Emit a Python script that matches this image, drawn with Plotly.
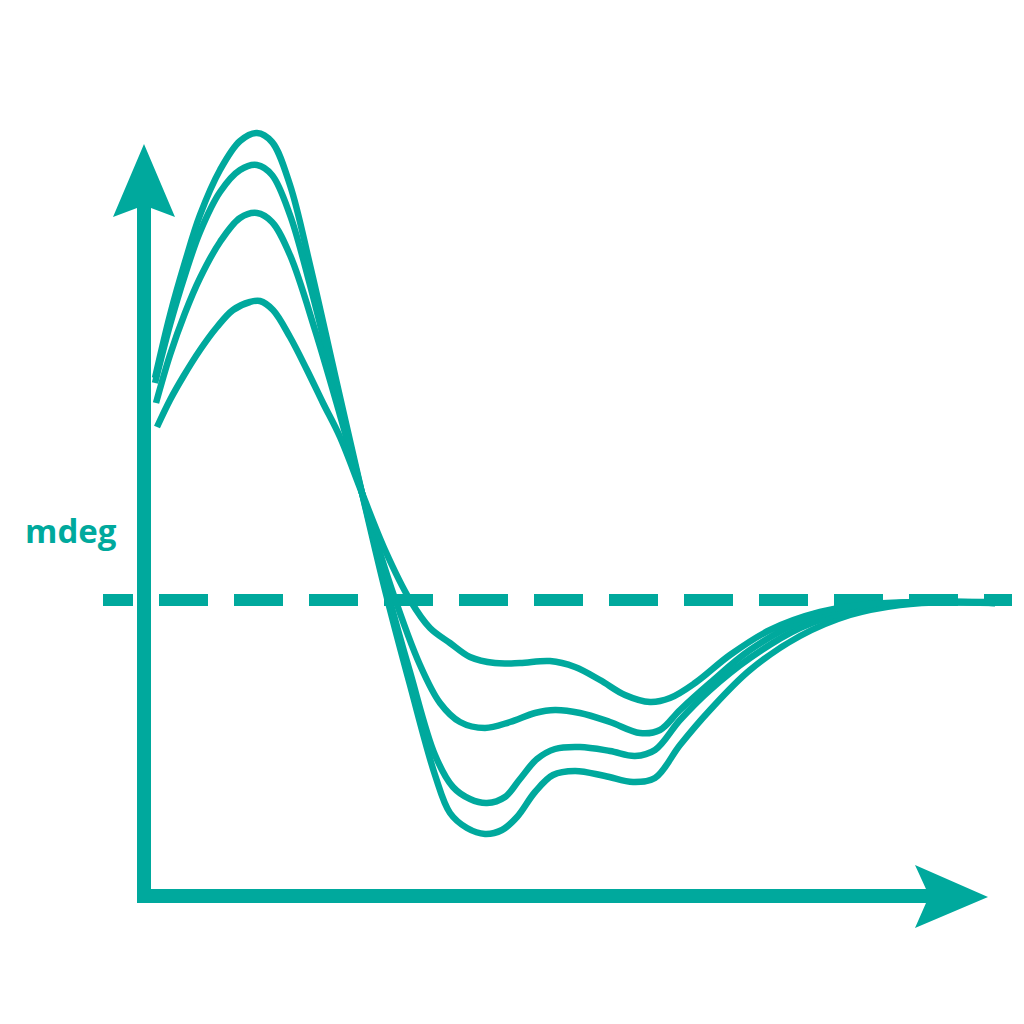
import plotly.graph_objects as go

TEAL = "#00A99D"

# Wavelength (nm) and ellipticity (mdeg) for four CD spectra
wl1 = [190, 191.5, 193, 194.5, 196.5, 198.5, 200.2, 201.7, 203.5, 205.5, 208, 210.7, 213, 215.5, 218, 219.5, 221.2,
       223, 224.7, 226.2, 228, 229.8, 232, 235, 237.8, 240, 242.5, 245.5, 249.5, 254.5, 259.5, 264.5, 269.5, 274]
cd1 = [22.2, 28.5, 33.8, 38.5, 43, 45.9, 46.7, 45.8, 41.5, 33.5, 22.5, 10.7, 1, -8.5, -17.5, -21.3, -22.8,
       -23.4, -23, -21.7, -19.2, -17.5, -17.1, -17.6, -18.2, -17.8, -14.5, -11, -7, -3.6, -1.5, -0.5, -0.2, -0.3]

wl2 = [190, 191.5, 193, 194.5, 196.5, 198.5, 200.2, 201.7, 203.5, 205.5, 208, 210.7, 213.2, 215.5, 218, 219.8, 221.5,
       223.2, 225, 226.5, 228.2, 230, 232.5, 235.5, 238, 240, 242.5, 245.5, 249.5, 254.5, 259.5, 264.5, 269.5, 274]
cd2 = [21.7, 27.5, 32.5, 36.8, 40.8, 43, 43.5, 42.5, 38.5, 31.5, 21.5, 10.7, 1, -7.2, -15.5, -18.7, -19.9,
       -20.3, -19.7, -17.9, -15.9, -14.9, -14.7, -15.1, -15.6, -15, -12, -9, -5.8, -2.8, -1.1, -0.3, -0.2, -0.3]

wl3 = [190.1, 191.5, 193, 194.5, 196.5, 198.5, 200.2, 201.7, 203.5, 206, 208.5, 210.7, 213.7, 216.5, 218.5, 220.5,
       223, 225.5, 228, 230, 232.5, 235.5, 238.5, 240.5, 242.5, 245.5, 249.5, 254.5, 259.5, 264.5, 274]
cd3 = [19.7, 24.5, 28.7, 32.2, 35.8, 38.2, 38.7, 37.8, 34.5, 27, 18.5, 10.7, 1, -6.5, -10.3, -12.2,
       -12.8, -12.2, -11.3, -11, -11.3, -12.2, -13.3, -13, -11, -8.3, -5, -2.2, -0.8, -0.3, -0.3]

wl4 = [190.2, 191.5, 192.8, 194.5, 196.2, 197.8, 199.5, 200.5, 201.8, 203.5, 205.2, 206.8, 208.5, 210.7, 213, 215.5,
       217.5, 219.5, 221.5, 224, 226.5, 229.5, 232, 234.5, 237, 239.5, 241.5, 244, 247.5, 251.5, 256.5, 261.5,
       266.5, 274]
cd4 = [17.3, 20, 22.3, 25, 27.3, 29, 29.8, 29.9, 29, 26.3, 23, 19.7, 16.3, 10.7, 5, 0,
       -2.8, -4.3, -5.7, -6.3, -6.3, -6.1, -6.7, -8, -9.5, -10.2, -9.8, -8.3, -5.5, -3, -1.2, -0.4,
       -0.2, -0.2]

baseline_wl = [184.8, 275.7]
baseline_cd = [0, 0]

y_label = "mdeg"

# page is offset by the 8px body margin; the figure is 1016x1016
OFF = 8
SIZE = 1016

fig = go.Figure()

# dashed zero line
dash_pattern = ",".join(["30px", "26px"] + ["49px", "26px"] * 11 + ["29px", "40px"])
fig.add_trace(go.Scatter(x=baseline_wl, y=baseline_cd, mode="lines",
                         line=dict(color=TEAL, width=12, dash=dash_pattern),
                         hoverinfo="skip", showlegend=False))

for wl, cd in [(wl1, cd1), (wl2, cd2), (wl3, cd3), (wl4, cd4)]:
    fig.add_trace(go.Scatter(x=wl, y=cd, mode="lines",
                             line=dict(color=TEAL, width=6.5, shape="spline", smoothing=1.0),
                             hoverinfo="skip", showlegend=False))


def P(px, py):
    return f"{(px - OFF)/SIZE:.5f},{1 - (py - OFF)/SIZE:.5f}"


axis_path = ("M " + P(144, 144) + " L " + P(175, 217) + " L " + P(151, 208) + " L " + P(151, 889) +
             " L " + P(926, 889) + " L " + P(915, 865) + " L " + P(988, 897) + " L " + P(915, 928) +
             " L " + P(926, 903) + " L " + P(137, 903) + " L " + P(137, 208) + " L " + P(113, 217) + " Z")

fig.add_shape(type="path", xref="paper", yref="paper", path=axis_path,
              fillcolor=TEAL, line=dict(width=0), layer="below")

fig.add_annotation(text="<b>" + y_label + "</b>", xref="paper", yref="paper",
                   x=(71 - OFF)/SIZE, y=1 - (530 - OFF)/SIZE, xanchor="center", yanchor="middle",
                   showarrow=False, font=dict(family="Open Sans", size=33, color=TEAL))

fig.update_layout(
    width=SIZE, height=SIZE,
    margin=dict(l=0, r=0, t=0, b=0),
    paper_bgcolor="white", plot_bgcolor="white",
    xaxis=dict(range=[175.3, 276.9], visible=False, fixedrange=True),
    yaxis=dict(range=[-42.4, 59.2], visible=False, fixedrange=True),
    showlegend=False,
)

fig.write_html("out.html")
